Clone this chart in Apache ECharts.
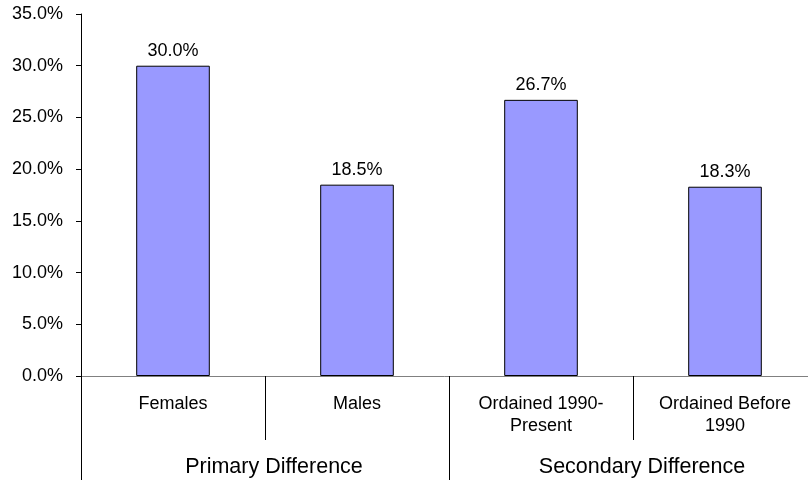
<!DOCTYPE html>
<html>
<head>
<meta charset="utf-8">
<script src="https://cdn.jsdelivr.net/npm/echarts@6/dist/echarts.min.js"></script>
<style>html,body{margin:0;padding:0;background:#fff}#c{width:808px;height:480px}</style>
</head>
<body>
<div id="c"></div>
<script>
var categories = ['Females', 'Males', 'Ordained 1990-\nPresent', 'Ordained Before\n1990'];
var groups = ['Primary Difference', 'Secondary Difference'];
var values = [30.0, 18.5, 26.7, 18.3];
var yTicks = {min: 0, max: 35, interval: 5};

var FONT = '"Liberation Sans", Arial, sans-serif';
var chart = echarts.init(document.getElementById('c'), null, {renderer: 'canvas'});
chart.setOption({
  animation: false,
  backgroundColor: '#fff',
  grid: {left: 81, top: 14, height: 362, width: 736, containLabel: false, outerBoundsMode: 'none'},
  xAxis: [
    {
      type: 'category', data: categories, position: 'bottom',
      axisLine: {show: true, lineStyle: {color: '#808080', width: 1}},
      axisTick: {show: true, length: 64, lineStyle: {color: '#000', width: 1}},
      axisLabel: {color: '#000', fontFamily: FONT, fontSize: 18, lineHeight: 22, margin: 17, interval: 0}
    },
    {
      type: 'category', data: groups, position: 'bottom', offset: 0,
      axisLine: {show: false},
      axisTick: {show: true, length: 104, lineStyle: {color: '#000', width: 1}},
      axisLabel: {color: '#000', fontFamily: FONT, fontSize: 21.5, lineHeight: 21, margin: 81, interval: 0,
        padding: [0, 0, 0, 18]}
    }
  ],
  yAxis: {
    type: 'value', min: yTicks.min, max: yTicks.max, interval: yTicks.interval,
    axisLine: {show: true, lineStyle: {color: '#000', width: 1}},
    axisTick: {show: true, length: 5, lineStyle: {color: '#000'}},
    splitLine: {show: false},
    axisLabel: {color: '#000', fontFamily: FONT, fontSize: 18, margin: 18,
      formatter: function (v) { return v.toFixed(1) + '%'; }}
  },
  series: [{
    type: 'bar', data: values, xAxisIndex: 0, barWidth: '40%',
    itemStyle: {color: '#9999ff', borderColor: '#000', borderWidth: 1},
    label: {show: true, position: 'top', distance: 6, color: '#000', fontFamily: FONT, fontSize: 18,
      formatter: function (p) { return p.value.toFixed(1) + '%'; }}
  }]
});
</script>
</body>
</html>
